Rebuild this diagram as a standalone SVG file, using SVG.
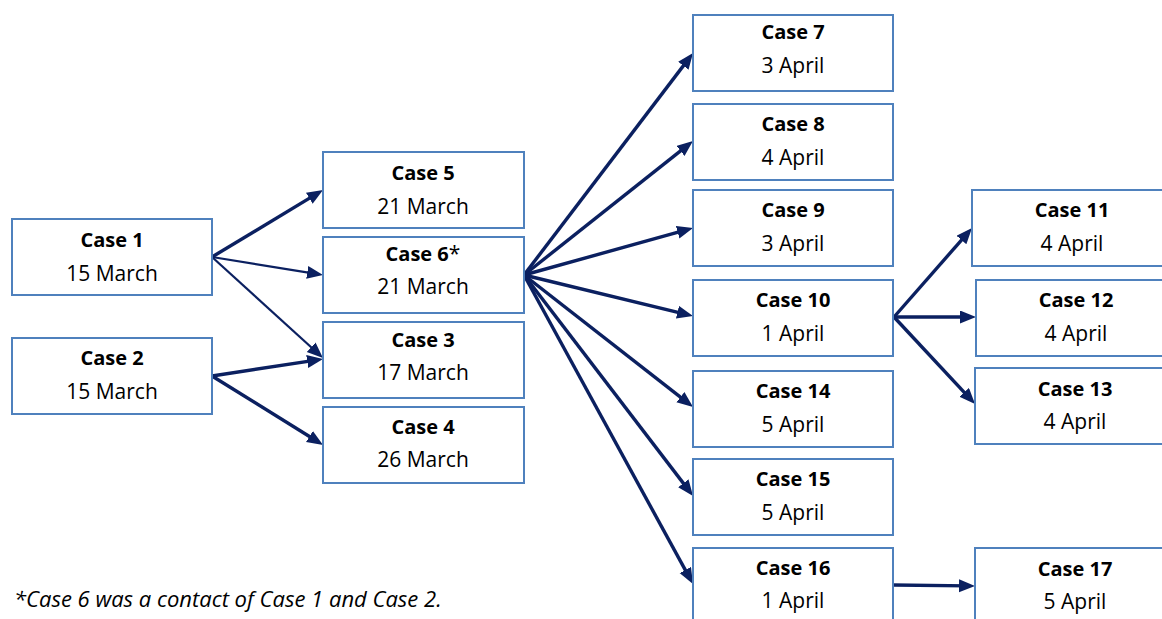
<svg xmlns="http://www.w3.org/2000/svg" width="1162" height="619" viewBox="0 0 1162 619">
<style>
.box{fill:#fff;stroke:#4f81bd;stroke-width:2}
.t{font-family:"Open Sans","Liberation Sans",sans-serif;font-size:21px;fill:#000;text-anchor:middle}
.b{font-weight:bold;font-size:20px}
.c{stroke:#0b2060;stroke-width:3.4;fill:none;marker-end:url(#ah)}
.thin{stroke-width:2.2}
.note{font-family:"Open Sans","Liberation Sans",sans-serif;font-size:22px;font-style:italic;fill:#000}
</style>
<defs>
<marker id="ah" markerUnits="userSpaceOnUse" markerWidth="17" markerHeight="14" refX="9" refY="6.5" orient="auto">
<path d="M0,0 L16,6.5 L0,13 z" fill="#0b2060"/>
</marker>
</defs>
<rect width="1162" height="619" fill="#fff"/>
<g id="connectors">
<line class="c" x1="212" y1="257" x2="317.0" y2="193.6"/>
<line class="c thin" x1="212" y1="257" x2="316.1" y2="273.9"/>
<line class="c thin" x1="212" y1="257" x2="317.8" y2="353.3"/>
<line class="c" x1="212" y1="376" x2="316.1" y2="360.1"/>
<line class="c" x1="212" y1="376" x2="317.1" y2="441.3"/>
<line class="c" x1="524" y1="275" x2="688.8" y2="58.6"/>
<line class="c" x1="524" y1="275" x2="687.5" y2="145.3"/>
<line class="c" x1="524" y1="275" x2="686.3" y2="229.9"/>
<line class="c" x1="524" y1="275" x2="686.2" y2="314.3"/>
<line class="c" x1="524" y1="275" x2="687.5" y2="402.7"/>
<line class="c" x1="524" y1="275" x2="688.8" y2="490.4"/>
<line class="c" x1="524" y1="275" x2="689.6" y2="577.9"/>
<line class="c" x1="894" y1="317" x2="967.4" y2="233.3"/>
<line class="c" x1="894" y1="317" x2="969" y2="317"/>
<line class="c" x1="894" y1="317" x2="970.3" y2="398.9"/>
<line class="c" x1="893" y1="585" x2="968" y2="585.9"/>
</g>
<g id="case1"><rect class="box" x="12" y="219" width="200" height="76"/><text class="t b" x="112" y="247">Case 1</text><text class="t" x="112" y="281">15 March</text></g>
<g id="case2"><rect class="box" x="12" y="338" width="200" height="76"/><text class="t b" x="112" y="365">Case 2</text><text class="t" x="112" y="399">15 March</text></g>
<g id="case5"><rect class="box" x="323" y="152" width="201" height="76"/><text class="t b" x="423" y="180">Case 5</text><text class="t" x="423" y="214">21 March</text></g>
<g id="case6"><rect class="box" x="323" y="237" width="201" height="76"/><text class="t" x="423" y="261"><tspan class="b">Case 6</tspan>*</text><text class="t" x="423" y="294">21 March</text></g>
<g id="case3"><rect class="box" x="323" y="322" width="201" height="76"/><text class="t b" x="423" y="347">Case 3</text><text class="t" x="423" y="380">17 March</text></g>
<g id="case4"><rect class="box" x="323" y="407" width="201" height="76"/><text class="t b" x="423" y="434">Case 4</text><text class="t" x="423" y="467">26 March</text></g>
<g id="case7"><rect class="box" x="693" y="15" width="200" height="76"/><text class="t b" x="793" y="39">Case 7</text><text class="t" x="793" y="73">3 April</text></g>
<g id="case8"><rect class="box" x="693" y="104" width="200" height="76"/><text class="t b" x="793" y="131">Case 8</text><text class="t" x="793" y="165">4 April</text></g>
<g id="case9"><rect class="box" x="693" y="190" width="200" height="76"/><text class="t b" x="793" y="217">Case 9</text><text class="t" x="793" y="251">3 April</text></g>
<g id="case10"><rect class="box" x="693" y="280" width="200" height="76"/><text class="t b" x="793" y="307">Case 10</text><text class="t" x="793" y="341">1 April</text></g>
<g id="case14"><rect class="box" x="693" y="371" width="200" height="76"/><text class="t b" x="793" y="398">Case 14</text><text class="t" x="793" y="432">5 April</text></g>
<g id="case15"><rect class="box" x="693" y="459" width="200" height="76"/><text class="t b" x="793" y="486">Case 15</text><text class="t" x="793" y="520">5 April</text></g>
<g id="case16"><rect class="box" x="693" y="548" width="200" height="76"/><text class="t b" x="793" y="575">Case 16</text><text class="t" x="793" y="608">1 April</text></g>
<g id="case11"><rect class="box" x="972" y="190" width="200" height="76"/><text class="t b" x="1072" y="217">Case 11</text><text class="t" x="1072" y="251">4 April</text></g>
<g id="case12"><rect class="box" x="976" y="280" width="200" height="76"/><text class="t b" x="1076" y="307">Case 12</text><text class="t" x="1076" y="341">4 April</text></g>
<g id="case13"><rect class="box" x="975" y="368" width="200" height="76"/><text class="t b" x="1075" y="396">Case 13</text><text class="t" x="1075" y="429">4 April</text></g>
<g id="case17"><rect class="box" x="975" y="548" width="200" height="76"/><text class="t b" x="1075" y="576">Case 17</text><text class="t" x="1075" y="609">5 April</text></g>
<text class="note" x="14" y="607">*Case 6 was a contact of Case 1 and Case 2.</text>
</svg>
